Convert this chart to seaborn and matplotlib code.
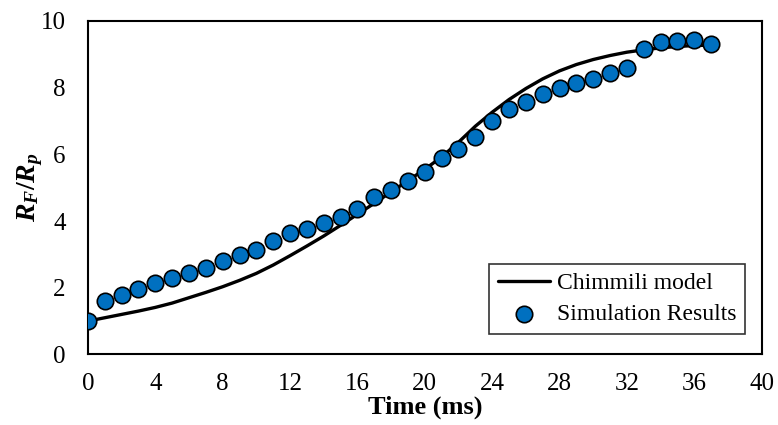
import numpy as np
import pandas as pd
import matplotlib
matplotlib.use("Agg")
import matplotlib.pyplot as plt
import seaborn as sns

# --- data ---
time_model = list(range(0, 38))
rf_model = [1.0, 1.1, 1.2, 1.3, 1.41, 1.54, 1.7, 1.86, 2.03, 2.22,
            2.43, 2.68, 2.96, 3.25, 3.55, 3.87, 4.2, 4.53, 4.87, 5.21,
            5.55, 5.92, 6.36, 6.84, 7.26, 7.64, 7.97, 8.26, 8.5, 8.69,
            8.84, 8.96, 9.06, 9.13, 9.19, 9.23, 9.26, 9.27]

time_sim = list(range(0, 38))
rf_sim = [1.0, 1.61, 1.79, 1.95, 2.13, 2.29, 2.43, 2.6, 2.81, 2.98,
          3.13, 3.39, 3.65, 3.75, 3.94, 4.11, 4.36, 4.71, 4.93, 5.2,
          5.48, 5.9, 6.15, 6.52, 7.0, 7.36, 7.57, 7.8, 7.99, 8.15,
          8.27, 8.45, 8.6, 9.15, 9.37, 9.4, 9.42, 9.32]

df_model = pd.DataFrame({"t": time_model, "r": rf_model})
df_sim = pd.DataFrame({"t": time_sim, "r": rf_sim})

sns.set_style("white")
plt.rcParams["font.family"] = ["Liberation Serif", "DejaVu Serif"]
plt.rcParams["mathtext.fontset"] = "custom"
plt.rcParams["mathtext.it"] = "Liberation Serif:italic:bold"
plt.rcParams["mathtext.rm"] = "Liberation Serif:bold"
plt.rcParams["text.color"] = "black"
plt.rcParams["axes.labelcolor"] = "black"
plt.rcParams["xtick.color"] = "black"
plt.rcParams["ytick.color"] = "black"

fig = plt.figure(figsize=(7.78, 4.25), dpi=100)
ax = fig.add_axes([0.113, 0.166, 0.866, 0.785])

sns.lineplot(data=df_model, x="t", y="r", ax=ax, color="black", linewidth=2.4,
             label="Chimmili model", zorder=2)
sns.scatterplot(data=df_sim, x="t", y="r", ax=ax, color="#0070C0", edgecolor="black",
                linewidth=1.2, s=140, label="Simulation Results", zorder=3)

ax.set_xlim(0, 40)
ax.set_ylim(0, 10)
ax.set_xticks(np.arange(0, 41, 4))
ax.set_yticks(np.arange(0, 11, 2))
ax.tick_params(length=0, labelsize=18)
ax.tick_params(axis="x", pad=13)
ax.tick_params(axis="y", pad=16)
ax.set_xlabel("Time (ms)", fontsize=19, fontweight="bold", labelpad=1)
ax.set_ylabel(r"$R_F/R_p$", fontsize=20, labelpad=-3)
for sp in ax.spines.values():
    sp.set_color("black")
    sp.set_linewidth(1.5)

leg = ax.legend(loc="lower right", bbox_to_anchor=(0.976, 0.06), fontsize=17,
                frameon=True, fancybox=False, edgecolor="black",
                handlelength=2.2, handletextpad=0.3, borderpad=0.38,
                labelspacing=0.42, borderaxespad=0)
leg.get_frame().set_linewidth(1.2)

fig.savefig("out.png", dpi=100)
